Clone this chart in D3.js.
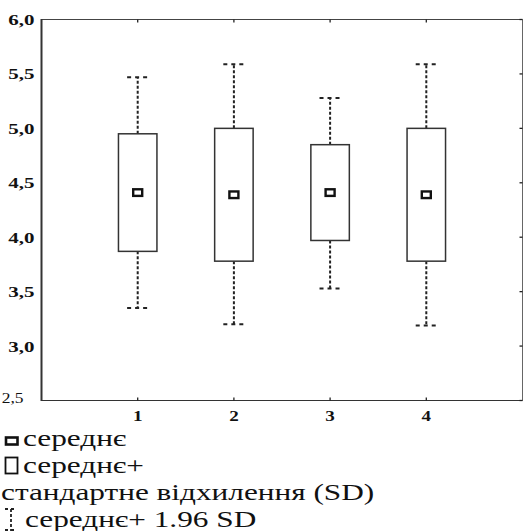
<!DOCTYPE html>
<html>
<head>
<meta charset="utf-8">
<script src="https://cdn.jsdelivr.net/npm/d3@7"></script>
<style>
  html, body { margin: 0; padding: 0; background: #fff; }
  svg { display: block; }
  text { font-family: "Liberation Serif", "DejaVu Serif", serif; }
</style>
</head>
<body>
<svg id="chart" width="523" height="531"></svg>
<script>
// ---- data ----
const categories = [1, 2, 3, 4];
const means   = [4.41, 4.39, 4.41, 4.39];
const sdLow   = [3.87, 3.78, 3.97, 3.78];
const sdHigh  = [4.95, 5.00, 4.85, 5.00];
const ciLow   = [3.35, 3.20, 3.53, 3.19];
const ciHigh  = [5.47, 5.59, 5.28, 5.59];
const yTicks  = [2.5, 3.0, 3.5, 4.0, 4.5, 5.0, 5.5, 6.0];
const xTicks  = [1, 2, 3, 4];
const legendLabels = ["середнє", "середнє+", "стандартне відхилення (SD)", "середнє+ 1.96 SD"];

// ---- layout ----
const svg = d3.select("#chart");
const pLeft = 41.5, pRight = 522.5, pTop = 19.5, pBottom = 400.5;
const SX = 1.36; // horizontal stretch of the original text
const ink = "#222";

const x = d3.scaleLinear().domain([0, 5]).range([pLeft, pRight]);
const y = d3.scaleLinear().domain([2.5, 6.0]).range([pBottom, pTop]);
const boxW = (x(1) - x(0)) * 0.4;
const capW = (x(1) - x(0)) * 0.22;

const fmt = v => d3.format(".1f")(v).replace(".", ",");

function stretchedText(g, tx, ty, str, opts) {
  return g.append("text")
    .attr("transform", `translate(${tx},${ty}) scale(${opts.sx || SX},1)`)
    .style("font-family", "'Liberation Serif', 'DejaVu Serif', serif")
    .attr("font-size", opts.size)
    .attr("font-weight", opts.weight || "normal")
    .attr("text-anchor", opts.anchor || "start")
    .attr("fill", "#111")
    .text(str);
}

// frame
svg.append("line").attr("x1", pLeft + 0.5).attr("x2", pRight).attr("y1", pTop).attr("y2", pTop)
  .attr("stroke", "#444").attr("stroke-width", 1);
svg.append("line").attr("x1", pRight).attr("x2", pRight).attr("y1", pTop).attr("y2", pBottom)
  .attr("stroke", "#666").attr("stroke-width", 1);
svg.append("line").attr("x1", pLeft).attr("x2", pRight).attr("y1", pBottom).attr("y2", pBottom)
  .attr("stroke", "#333").attr("stroke-width", 1.2);
svg.append("line").attr("x1", pLeft).attr("x2", pLeft).attr("y1", pTop - 0.5).attr("y2", pBottom + 0.5)
  .attr("stroke", "#333").attr("stroke-width", 2);

// inward ticks: top & bottom at categories, right at y ticks
const tickG = svg.append("g").attr("stroke", "#222").attr("stroke-width", 1.3);
xTicks.forEach(t => {
  tickG.append("line").attr("x1", x(t)).attr("x2", x(t)).attr("y1", pTop).attr("y2", pTop + 3);
  tickG.append("line").attr("x1", x(t)).attr("x2", x(t)).attr("y1", pBottom).attr("y2", pBottom - 3);
});
yTicks.forEach(t => {
  tickG.append("line").attr("x1", pRight).attr("x2", pRight - 3).attr("y1", y(t)).attr("y2", y(t));
});

// y tick labels
const labG = svg.append("g");
yTicks.forEach(t => {
  if (t === 2.5) {
    stretchedText(labG, 23.5, y(t) + 2, fmt(t), { size: 14, anchor: "end", weight: "normal", sx: 1.25 });
  } else {
    stretchedText(labG, 34.5, y(t) + 5.5, fmt(t), { size: 15, anchor: "end", weight: "bold", sx: 1.4 });
  }
});
// x tick labels
xTicks.forEach(t => {
  stretchedText(labG, x(t), 420.5, String(t), { size: 14, anchor: "middle", weight: "bold" });
});

// boxes & whiskers
const data = categories.map((c, i) => ({
  c, mean: means[i], lo: sdLow[i], hi: sdHigh[i], clo: ciLow[i], chi: ciHigh[i]
}));
const g = svg.append("g");
const items = g.selectAll("g.item").data(data).join("g").attr("class", "item");

items.append("line")
  .attr("x1", d => x(d.c)).attr("x2", d => x(d.c))
  .attr("y1", d => y(d.hi)).attr("y2", d => y(d.chi))
  .attr("stroke", ink).attr("stroke-width", 2).attr("stroke-dasharray", "3,2");
items.append("line")
  .attr("x1", d => x(d.c)).attr("x2", d => x(d.c))
  .attr("y1", d => y(d.lo)).attr("y2", d => y(d.clo))
  .attr("stroke", ink).attr("stroke-width", 2).attr("stroke-dasharray", "3,2");
items.append("line")
  .attr("x1", d => x(d.c) - capW / 2).attr("x2", d => x(d.c) + capW / 2)
  .attr("y1", d => y(d.chi)).attr("y2", d => y(d.chi))
  .attr("stroke", ink).attr("stroke-width", 2).attr("stroke-dasharray", "4,4");
items.append("line")
  .attr("x1", d => x(d.c) - capW / 2).attr("x2", d => x(d.c) + capW / 2)
  .attr("y1", d => y(d.clo)).attr("y2", d => y(d.clo))
  .attr("stroke", ink).attr("stroke-width", 2).attr("stroke-dasharray", "4,4");

items.append("rect")
  .attr("x", d => x(d.c) - boxW / 2).attr("width", boxW)
  .attr("y", d => y(d.hi)).attr("height", d => y(d.lo) - y(d.hi))
  .attr("fill", "#fff").attr("stroke", "#333").attr("stroke-width", 1.5);

items.append("rect")
  .attr("x", d => x(d.c) - 4.5).attr("width", 9)
  .attr("y", d => y(d.mean) - 3.3).attr("height", 6.6)
  .attr("fill", "#fff").attr("stroke", "#111").attr("stroke-width", 2.4);

// legend
const lg = svg.append("g");
const base = [446, 473, 500, 527];
lg.append("rect").attr("x", 6).attr("y", 437.5).attr("width", 11.5).attr("height", 7)
  .attr("fill", "#fff").attr("stroke", "#111").attr("stroke-width", 2.6);
lg.append("rect").attr("x", 5.5).attr("y", 457.5).attr("width", 12).attr("height", 16)
  .attr("fill", "#fff").attr("stroke", "#111").attr("stroke-width", 1.8);
// whisker icon
lg.append("line").attr("x1", 5).attr("x2", 16).attr("y1", 509).attr("y2", 509)
  .attr("stroke", ink).attr("stroke-width", 1.8).attr("stroke-dasharray", "3,3");
lg.append("line").attr("x1", 11).attr("x2", 11).attr("y1", 509).attr("y2", 531)
  .attr("stroke", ink).attr("stroke-width", 1.8).attr("stroke-dasharray", "3,2");
lg.append("line").attr("x1", 5).attr("x2", 16).attr("y1", 530).attr("y2", 530)
  .attr("stroke", ink).attr("stroke-width", 1.8).attr("stroke-dasharray", "3,3");

const lx = [23, 23, 1, 25];
legendLabels.forEach((s, i) => {
  stretchedText(lg, lx[i], base[i], s, { size: 23 });
});
</script>
</body>
</html>
